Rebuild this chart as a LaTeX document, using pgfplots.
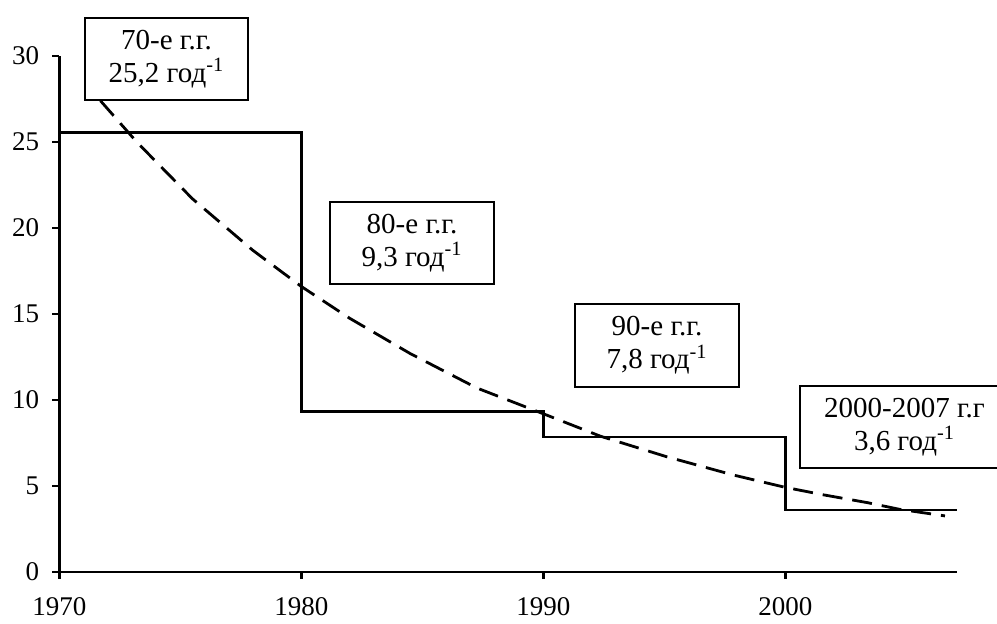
\documentclass[border=0pt]{standalone}
\usepackage{pgfplots}
\pgfplotsset{compat=1.18}
\usepackage{fontspec}
\setmainfont{Liberation Serif}
\newcommand{\tlfont}{\fontsize{13.5}{15}\selectfont}
\begin{document}
\begin{tikzpicture}[x=1pt,y=1pt]
\useasboundingbox (-29.65,-26) rectangle (468.85,286);
\clip (-29.65,-26) rectangle (468.85,286);
\begin{axis}[
  scale only axis,
  width=448.9pt, height=258pt,
  xmin=1970, xmax=2007.1,
  ymin=0, ymax=30,
  axis lines=left,
  axis line style={-, line width=1.3pt},
  tick style={line width=1.3pt, black},
  tick align=outside,
  major tick length=3.5pt,
  xtick={1970,1980,1990,2000},
  ytick={0,5,10,15,20,25,30},
  minor tick num=0,
  xticklabels={1970,1980,1990,2000},
  yticklabels={0,5,10,15,20,25,30},
  ticklabel style={font=\tlfont},
  xticklabel style={yshift=-8pt, inner sep=1pt},
  yticklabel style={xshift=-3pt},
  clip=false,
]
\addplot[const plot, line width=1.35pt, black] coordinates {
  (1970,25.55) (1980,9.35) (1990,7.85) (2000,3.6) (2007.1,3.6)
};
\addplot[line width=1.4pt, black, dash pattern=on 10pt off 5pt] coordinates {
  (1971.7,27.4) (1973.2,25.0) (1975.5,21.7) (1978,18.7) (1980,16.6)
  (1982,14.75) (1984.5,12.7) (1987.25,10.7) (1990,9.2) (1992.35,7.9)
  (1995.1,6.7) (1997.85,5.64) (2000,4.92) (2001.6,4.48) (2003.4,4.03)
  (2004.7,3.65) (2006.6,3.26)
};
\end{axis}
\tikzset{box/.style={draw, line width=0.7pt, fill=white, align=center, inner sep=0pt,
  font=\fontsize{14.5}{16.5}\selectfont}}
\node[box, minimum width=81.5pt, minimum height=41pt] at (53.6,256.5) {70-е г.г.\\25,2 год\textsuperscript{-1}};
\node[box, minimum width=82pt, minimum height=41pt] at (176.35,164.5) {80-е г.г.\\9,3 год\textsuperscript{-1}};
\node[box, minimum width=82pt, minimum height=41.5pt] at (298.85,113.25) {90-е г.г.\\7,8 год\textsuperscript{-1}};
\node[box, minimum width=104.5pt, minimum height=41pt] at (422.6,72.5) {2000-2007 г.г\\3,6 год\textsuperscript{-1}};
\end{tikzpicture}
\end{document}
